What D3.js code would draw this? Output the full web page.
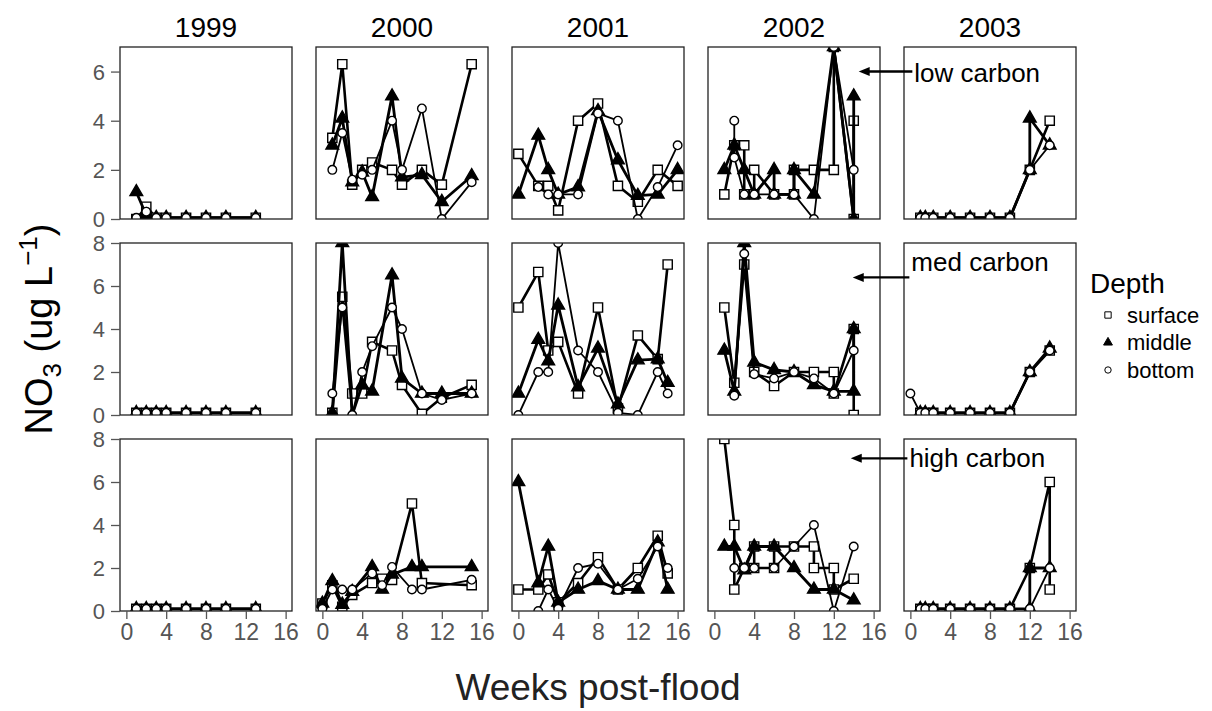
<!DOCTYPE html>
<html>
<head>
<meta charset="utf-8">
<script src="https://cdn.jsdelivr.net/npm/d3@7"></script>
<style>
  body { margin: 0; background: #fff; }
  svg { font-family: "Liberation Sans", Arial, sans-serif; }
</style>
</head>
<body>
<svg id="chart"></svg>
<script>
// panel grid: rows are carbon levels, columns are years
const years = [1999, 2000, 2001, 2002, 2003];
const carbonLevels = ["low carbon", "med carbon", "high carbon"];
const depths = ["surface", "middle", "bottom"];
const yMax = [7, 8, 8];
const xTicks = [0, 4, 8, 12, 16];
const yTicks = [[0, 2, 4, 6], [0, 2, 4, 6, 8], [0, 2, 4, 6, 8]];

// each series: one list of [week, NO3] per year
const lowSurface = [
  [[1,0],[2,0.5],[3,0.05],[4,0.05],[6,0.05],[8,0.05],[10,0.05],[13,0.05]],
  [[1,3.3],[2,6.3],[3,1.4],[4,2.0],[5,2.3],[7,2.0],[8,1.4],[10,2.0],[12,1.4],[15,6.3]],
  [[0,2.65],[2,1.35],[3,1.35],[4,0.35],[6,4.0],[8,4.7],[10,1.35],[12,0.7],[14,2.0],[16,1.35]],
  [[1,1.0],[2,3.0],[3,3.0],[3,1.0],[4,1.0],[4,2.0],[6,1.0],[8,1.0],[8,2.0],[10,2.0],[12,2.0],[12,7.0],[14,0],[14,4.0]],
  [[1,0.05],[1.5,0.05],[2.3,0.05],[4,0.05],[6,0.05],[8,0.05],[10,0.05],[12,2.0],[14,4.0]]
];
const lowMiddle = [
  [[1,1.1],[2,0.15],[3,0.05],[4,0.05],[6,0.05],[8,0.05],[10,0.05],[13,0.05]],
  [[1,3.0],[2,4.1],[3,1.5],[4,1.9],[5,0.9],[7,5.0],[8,1.7],[10,1.8],[12,0.7],[15,1.75]],
  [[0,1.0],[2,3.4],[3,2.0],[4,1.0],[6,1.3],[8,4.4],[10,2.4],[12,0.95],[14,1.0],[16,2.0]],
  [[1,2.0],[2,3.0],[3,2.0],[4,1.0],[6,2.0],[6,1.0],[8,1.0],[8,2.0],[10,1.0],[12,7.0],[14,0],[14,5.0]],
  [[1,0.05],[1.5,0.05],[2.3,0.05],[4,0.05],[6,0.05],[8,0.05],[10,0.05],[12,2.0],[12,4.1],[14,3.0]]
];
const lowBottom = [
  [[1,0.05],[2,0.3],[3,0.05],[4,0.05],[6,0.05],[8,0.05],[10,0.05],[13,0.05]],
  [[1,2.0],[2,3.5],[3,1.6],[4,1.8],[5,2.0],[7,4.0],[8,2.0],[10,4.5],[12,0.0],[15,1.5]],
  [[2,1.3],[3,1.0],[4,1.0],[6,1.0],[8,4.3],[10,4.0],[12,0.0],[14,1.3],[16,3.0]],
  [[2,4.0],[2,2.5],[3,1.0],[4,1.0],[6,1.0],[8,1.0],[10,0],[12,7.0],[14,2.0]],
  [[1,0.05],[1.5,0.05],[2.3,0.05],[4,0.05],[6,0.05],[8,0.05],[10,0.05],[12,2.0],[14,3.0]]
];
const medSurface = [
  [[1,0.1],[2,0.1],[3,0.1],[4,0.1],[6,0.1],[8,0.1],[10,0.1],[13,0.1]],
  [[1,0.1],[2,5.5],[3,1.0],[4,1.0],[5,3.4],[7,3.0],[8,1.4],[10,0.05],[12,0.8],[15,1.4]],
  [[0,5.0],[2,6.65],[3,3.0],[4,3.4],[6,1.0],[8,5.0],[10,0.3],[12,3.7],[14,2.6],[15,7.0]],
  [[1,5.0],[2,1.5],[3,7.0],[4,2.0],[6,1.35],[8,2.0],[10,2.0],[12,2.0],[12,1.0],[14,4.0],[14,0.0]],
  [[1,0.1],[1.5,0.1],[2.3,0.1],[4,0.1],[6,0.1],[8,0.1],[10,0.1],[12,2.0],[14,3.0]]
];
const medMiddle = [
  [[1,0.1],[2,0.1],[3,0.1],[4,0.1],[6,0.1],[8,0.1],[10,0.1],[13,0.1]],
  [[1,0.1],[2,8.0],[3,0.0],[4,1.4],[5,1.1],[7,6.5],[8,1.7],[10,1.0],[12,1.0],[15,1.0]],
  [[0,1.0],[2,3.5],[3,2.5],[4,5.1],[6,1.3],[8,3.1],[10,0.5],[12,2.55],[14,2.6],[15,1.5]],
  [[1,3.0],[2,1.1],[3,8.0],[4,2.45],[6,2.1],[8,2.0],[10,1.4],[12,1.1],[14,1.1],[14,4.0]],
  [[1,0.1],[1.5,0.1],[2.3,0.1],[4,0.1],[6,0.1],[8,0.1],[10,0.1],[12,2.0],[14,3.1]]
];
const medBottom = [
  [[1,0.1],[2,0.1],[3,0.1],[4,0.1],[6,0.1],[8,0.1],[10,0.1],[13,0.1]],
  [[1,1.0],[2,5.0],[3,0.0],[4,2.0],[5,3.2],[7,5.0],[8,4.0],[10,1.0],[12,0.7],[15,1.0]],
  [[0,0.0],[2,2.0],[3,2.0],[4,8.0],[6,3.0],[8,2.0],[10,0.1],[12,0.0],[14,2.0],[15,1.0]],
  [[2,0.9],[3,7.5],[4,1.9],[6,1.7],[8,2.0],[10,1.7],[12,1.0],[14,3.0]],
  [[0,1.0],[1,0.1],[1.5,0.1],[2.3,0.1],[4,0.1],[6,0.1],[8,0.1],[10,0.1],[12,2.0],[14,3.0]]
];
const highSurface = [
  [[1,0.1],[2,0.1],[3,0.1],[4,0.1],[6,0.1],[8,0.1],[10,0.1],[13,0.1]],
  [[0,0.35],[1,1.2],[2,0.2],[3,0.75],[5,1.3],[6,1.5],[7,1.45],[9,5.0],[10,1.3],[15,1.2]],
  [[0,1.0],[2,1.0],[3,1.7],[4,0.4],[6,1.3],[8,2.5],[10,1.0],[12,2.0],[14,3.5],[15,1.75]],
  [[1,8.0],[2,4.0],[2,1.0],[3,2.0],[4,3.0],[4,2.0],[6,2.0],[6,3.0],[8,3.0],[10,3.0],[10,2.0],[12,2.0],[12,1.0],[14,1.5]],
  [[1,0.1],[1.5,0.1],[2.3,0.1],[4,0.1],[6,0.1],[8,0.1],[10,0.1],[12,2.0],[14,6.0],[14,1.0]]
];
const highMiddle = [
  [[1,0.1],[2,0.1],[3,0.1],[4,0.1],[6,0.1],[8,0.1],[10,0.1],[13,0.1]],
  [[0,0.35],[1,1.4],[2,0.3],[3,0.9],[5,2.05],[6,1.0],[7,1.7],[9,2.05],[10,2.05],[15,2.05]],
  [[0,6.0],[2,1.3],[3,3.0],[4,0.4],[6,1.0],[8,1.4],[10,1.0],[12,1.0],[14,3.2],[15,1.0]],
  [[1,3.0],[2,3.0],[3,1.9],[4,3.0],[6,3.0],[8,2.0],[10,1.0],[12,1.0],[14,0.5]],
  [[1,0.1],[1.5,0.1],[2.3,0.1],[4,0.1],[6,0.1],[8,0.1],[10,0.1],[12,0.1],[12,2.0],[14,2.0]]
];
const highBottom = [
  [[1,0.1],[2,0.1],[3,0.1],[4,0.1],[6,0.1],[8,0.1],[10,0.1],[13,0.1]],
  [[0,0.1],[1,1.0],[2,1.0],[3,1.0],[5,1.75],[6,1.2],[7,2.05],[9,1.0],[10,1.0],[15,1.45]],
  [[2,0.0],[3,1.0],[4,0.1],[6,2.0],[8,2.2],[10,1.0],[12,1.5],[14,3.0],[15,2.0]],
  [[2,2.0],[3,2.0],[4,2.0],[6,2.0],[8,3.0],[10,4.0],[12,0.0],[14,3.0]],
  [[1,0.1],[1.5,0.1],[2.3,0.1],[4,0.1],[6,0.1],[8,0.1],[10,0.1],[12,0.1],[14,2.0]]
];

// arrows from the 2002 panels to the carbon labels (data units)
const noteHeadX = [14.5, 13.9, 13.7];
const noteHeadY = [6.0, 6.4, 7.1];
const noteTextY = [5.95, 7.1, 7.1];
const noteTextX = [0.4, 0.1, -0.1];

const series = [
  [lowSurface, lowMiddle, lowBottom],
  [medSurface, medMiddle, medBottom],
  [highSurface, highMiddle, highBottom]
];

const width = 1212, height = 711;
const left0 = 120, top0 = 47, step = 196, size = 172;
const tickColor = "#555";

const svg = d3.select("#chart").attr("width", width).attr("height", height);
const defs = svg.append("defs");
defs.append("clipPath").attr("id", "panel-clip")
  .append("rect").attr("x", 0).attr("y", 0).attr("width", size).attr("height", size);

const x = d3.scaleLinear().domain([-0.64, 16.64]).range([0, size]);
const yScales = yMax.map(m => d3.scaleLinear().domain([0, m]).range([size, 0]));

const symSquare = d3.symbol().type(d3.symbolSquare).size(85);
const symTri = d3.symbol().type(d3.symbolTriangle).size(70);
const symCircle = d3.symbol().type(d3.symbolCircle).size(58);
const symbols = [symSquare, symTri, symCircle];
const symFill = ["#fff", "#000", "#fff"];
const lineWidth = [2.6, 2.8, 1.8];

// year titles
svg.selectAll(".year").data(years).enter().append("text")
  .attr("x", (d, i) => left0 + i * step + size / 2)
  .attr("y", 37)
  .attr("text-anchor", "middle")
  .style("font-size", "28px")
  .text(d => d);

carbonLevels.forEach((level, r) => {
  const y = yScales[r];
  years.forEach((yr, c) => {
    const g = svg.append("g")
      .attr("transform", `translate(${left0 + c * step},${top0 + r * step})`);
    const inner = g.append("g").attr("clip-path", "url(#panel-clip)");

    depths.forEach((dep, k) => {
      const pts = series[r][k][c];
      const line = d3.line().x(d => x(d[0])).y(d => y(d[1]));
      inner.append("path")
        .attr("d", line(pts))
        .attr("fill", "none")
        .attr("stroke", "#000")
        .attr("stroke-width", lineWidth[k])
        .attr("stroke-linejoin", "round");
      inner.selectAll(null).data(pts).enter().append("path")
        .attr("transform", d => `translate(${x(d[0])},${y(d[1])})`)
        .attr("d", symbols[k]())
        .attr("fill", symFill[k])
        .attr("stroke", "#000")
        .attr("stroke-width", 1.4);
    });

    g.append("rect")
      .attr("width", size).attr("height", size)
      .attr("fill", "none")
      .attr("stroke", "#222")
      .attr("stroke-width", 1.3);

    if (c === 0) {
      const ax = g.append("g").call(d3.axisLeft(y).tickValues(yTicks[r])
        .tickFormat(d3.format("d")).tickSize(9).tickPadding(6));
      ax.select(".domain").remove();
      ax.selectAll(".tick line").attr("stroke", tickColor).attr("stroke-width", 1.3);
      ax.selectAll(".tick text").attr("fill", tickColor)
        .style("font-size", "22px").attr("dy", "0.36em");
    }
    if (r === carbonLevels.length - 1) {
      const ax = g.append("g").attr("transform", `translate(0,${size})`)
        .call(d3.axisBottom(x).tickValues(xTicks).tickSize(8).tickPadding(5));
      ax.select(".domain").remove();
      ax.selectAll(".tick line").attr("stroke", tickColor).attr("stroke-width", 1.3);
      ax.selectAll(".tick text").attr("fill", tickColor).style("font-size", "23px");
    }
  });

  // arrow + label
  const gx = left0 + 3 * step, lx = left0 + 4 * step, gy = top0 + r * step;
  const hx = gx + x(noteHeadX[r]), hy = gy + y(noteHeadY[r]);
  const tx = lx + x(noteTextX[r]);
  svg.append("line")
    .attr("x1", hx + 8).attr("y1", hy)
    .attr("x2", tx - 2).attr("y2", hy)
    .attr("stroke", "#000").attr("stroke-width", 2.4);
  svg.append("path")
    .attr("d", `M${hx},${hy} L${hx + 11},${hy - 4.5} L${hx + 11},${hy + 4.5} Z`)
    .attr("fill", "#000");
  svg.append("text")
    .attr("x", tx).attr("y", gy + y(noteTextY[r]))
    .attr("dy", "0.35em")
    .style("font-size", "26px")
    .text(level);
});

// axis titles
const yTitle = svg.append("text")
  .attr("transform", `translate(52,329) rotate(-90)`)
  .attr("text-anchor", "middle")
  .style("font-size", "38px");
yTitle.append("tspan").text("NO");
yTitle.append("tspan").attr("dy", 9).style("font-size", "26px").text("3");
yTitle.append("tspan").attr("dy", -9).text(" (ug L");
yTitle.append("tspan").attr("dy", -15).style("font-size", "26px").text("\u22121");
yTitle.append("tspan").attr("dy", 15).text(")");

svg.append("text")
  .attr("x", left0 + (4 * step + size) / 2).attr("y", 700)
  .attr("text-anchor", "middle")
  .attr("fill", "#222")
  .style("font-size", "37px")
  .text("Weeks post-flood");

// legend
const legend = svg.append("g").attr("transform", "translate(1090,0)");
legend.append("text").attr("x", 0).attr("y", 293).style("font-size", "28px").text("Depth");
const smallSyms = [
  d3.symbol().type(d3.symbolSquare).size(40),
  d3.symbol().type(d3.symbolTriangle).size(34),
  d3.symbol().type(d3.symbolCircle).size(32)
];
const legendY = d3.scalePoint().domain(depths).range([315, 370]);
depths.forEach((dep, k) => {
  legend.append("path")
    .attr("transform", `translate(18,${legendY(dep)})`)
    .attr("d", smallSyms[k]())
    .attr("fill", symFill[k]).attr("stroke", "#000").attr("stroke-width", 1);
  legend.append("text")
    .attr("x", 37).attr("y", legendY(dep)).attr("dy", "0.35em")
    .style("font-size", "22px").text(dep);
});
</script>
</body>
</html>
